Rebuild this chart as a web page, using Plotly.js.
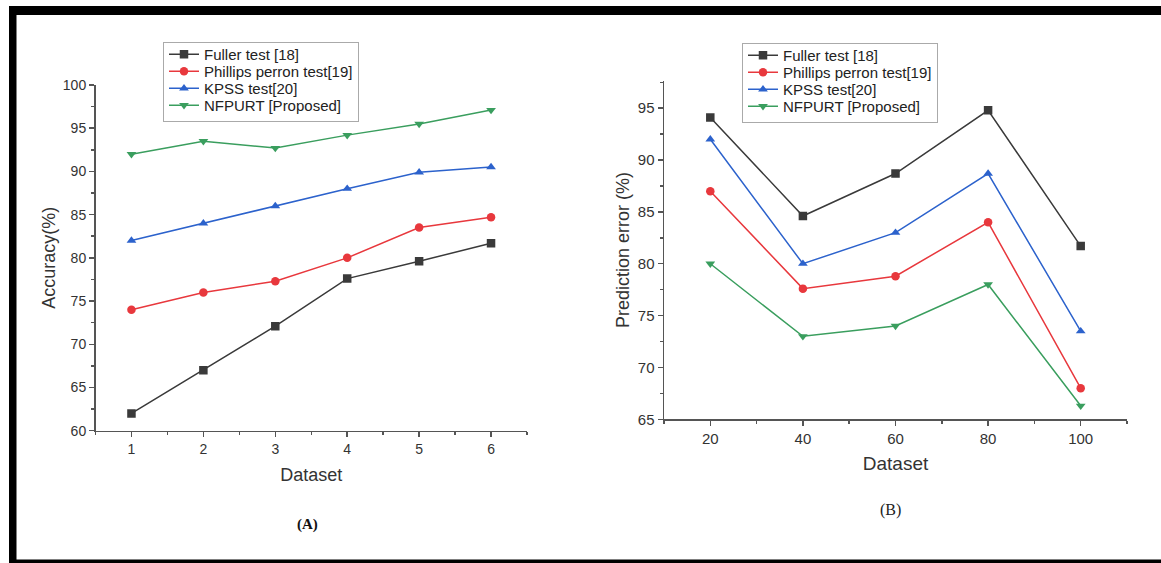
<!DOCTYPE html>
<html>
<head>
<meta charset="utf-8">
<script src="https://cdn.plot.ly/plotly-3.0.1.min.js"></script>
<style>html,body{margin:0;padding:0;background:#fff;}#chart{width:1161px;height:563px;}</style>
</head>
<body>
<div id="chart"></div>
<script>
// ---- data ----
const seriesNames = ["Fuller test [18]", "Phillips perron test[19]", "KPSS test[20]", "NFPURT [Proposed]"];
const datasetA = [1, 2, 3, 4, 5, 6];
const fullerA   = [62, 67, 72.1, 77.6, 79.6, 81.7];
const phillipsA = [74, 76, 77.3, 80, 83.5, 84.7];
const kpssA     = [82, 84, 86, 88, 89.9, 90.5];
const nfpurtA   = [92, 93.5, 92.7, 94.2, 95.5, 97.1];

const datasetB = [20, 40, 60, 80, 100];
const fullerB   = [94.1, 84.6, 88.7, 94.8, 81.7];
const phillipsB = [87, 77.6, 78.8, 84, 68];
const kpssB     = [92, 80, 83, 88.7, 73.5];
const nfpurtB   = [80, 73, 74, 78, 66.3];

const colors  = ["#3a3a3a", "#e8383d", "#2c62cc", "#3a9e5e"];
const symbols = ["square", "circle", "triangle-up", "triangle-down"];

const W = 1161, H = 563;
const px = v => v / W;
const py = v => 1 - v / H;

function mk(x, y, i, xa, ya, leg) {
  return {
    x: x, y: y, type: "scatter", mode: "lines+markers",
    name: seriesNames[i], xaxis: xa, yaxis: ya, legend: leg,
    line: {color: colors[i], width: 1.5},
    marker: {symbol: symbols[i], size: 8.5, color: colors[i]}
  };
}

const traces = [
  mk(datasetA, fullerA, 0, "x", "y", "legend"),
  mk(datasetA, phillipsA, 1, "x", "y", "legend"),
  mk(datasetA, kpssA, 2, "x", "y", "legend"),
  mk(datasetA, nfpurtA, 3, "x", "y", "legend"),
  mk(datasetB, fullerB, 0, "x2", "y2", "legend2"),
  mk(datasetB, phillipsB, 1, "x2", "y2", "legend2"),
  mk(datasetB, kpssB, 2, "x2", "y2", "legend2"),
  mk(datasetB, nfpurtB, 3, "x2", "y2", "legend2")
];

const axCommon = {
  showline: true, linecolor: "#555", linewidth: 1.5,
  ticks: "outside", ticklen: 5, tickwidth: 1.5, tickcolor: "#555",
  showgrid: false, zeroline: false, mirror: false,
  ticklabelstandoff: 0
};
const minorStyle = {ticks: "outside", ticklen: 3, tickcolor: "#555", tickwidth: 1.5};

const layout = {
  width: W, height: H,
  margin: {l: 0, r: 0, t: 0, b: 0},
  paper_bgcolor: "#fff", plot_bgcolor: "#fff",
  font: {family: "Liberation Sans, Arial, sans-serif", color: "#333"},
  showlegend: true,
  xaxis: Object.assign({}, axCommon, {
    domain: [px(95.5), px(527)], range: [0.5, 6.5], tick0: 1, dtick: 1,
    minor: Object.assign({dtick: 0.5, tick0: 0.5}, minorStyle),
    tickfont: {size: 14, color: "#333"},
    title: {text: "Dataset", font: {size: 18, color: "#333"}, standoff: 12},
    anchor: "y"
  }),
  yaxis: Object.assign({}, axCommon, {
    domain: [py(430.7), py(85)], range: [60, 100], tick0: 60, dtick: 5,
    minor: Object.assign({dtick: 2.5, tick0: 60}, minorStyle),
    tickfont: {size: 14, color: "#333"},
    title: {text: "Accuracy(%)", font: {size: 18, color: "#333"}, standoff: 2},
    anchor: "x"
  }),
  xaxis2: Object.assign({}, axCommon, {
    domain: [px(664), px(1127)], range: [10, 110], tick0: 20, dtick: 20,
    minor: Object.assign({dtick: 10, tick0: 10}, minorStyle),
    tickfont: {size: 15, color: "#333"},
    title: {text: "Dataset", font: {size: 19, color: "#333"}, standoff: 11},
    anchor: "y2"
  }),
  yaxis2: Object.assign({}, axCommon, {
    domain: [py(419.3), py(80.7)], range: [65, 97.65], tick0: 65, dtick: 5,
    minor: Object.assign({dtick: 2.5, tick0: 65}, minorStyle),
    tickfont: {size: 15, color: "#333"},
    title: {text: "Prediction error (%)", font: {size: 18, color: "#333"}, standoff: 3},
    anchor: "x2"
  }),
  legend: {
    x: px(163), y: py(42), xanchor: "left", yanchor: "top",
    bgcolor: "rgba(255,255,255,0)", bordercolor: "#aaa", borderwidth: 1,
    font: {size: 15, color: "#222"}, itemwidth: 30, tracegroupgap: 0
  },
  legend2: {
    x: px(742), y: py(43), xanchor: "left", yanchor: "top",
    bgcolor: "rgba(255,255,255,0)", bordercolor: "#aaa", borderwidth: 1,
    font: {size: 15, color: "#222"}, itemwidth: 30, tracegroupgap: 0
  },
  annotations: [
    {xref: "paper", yref: "paper", x: px(307), y: py(524), xanchor: "center", yanchor: "middle",
     text: "<b>(A)</b>", showarrow: false,
     font: {family: "Liberation Serif, Times New Roman, serif", size: 15, color: "#111"}},
    {xref: "paper", yref: "paper", x: px(890), y: py(510), xanchor: "center", yanchor: "middle",
     text: "(B)", showarrow: false,
     font: {family: "Liberation Serif, Times New Roman, serif", size: 16, color: "#222"}}
  ],
  shapes: [
    {type: "rect", xref: "paper", yref: "paper", x0: px(9), x1: 1, y0: py(15), y1: py(6), fillcolor: "#000", line: {width: 0}},
    {type: "rect", xref: "paper", yref: "paper", x0: px(9), x1: px(16.5), y0: 0, y1: py(6), fillcolor: "#000", line: {width: 0}},
    {type: "rect", xref: "paper", yref: "paper", x0: px(9), x1: 1, y0: 0, y1: py(559.5), fillcolor: "#000", line: {width: 0}}
  ]
};

// tighten legend row spacing to match the reference (rows ~17px apart)
function tightenLegends(gd) {
  const ROW = 17;
  gd.querySelectorAll("g.legend, g.legend2").forEach(function (leg) {
    const items = leg.querySelectorAll("g.traces");
    if (items.length < 2) return;
    const pos = Array.prototype.map.call(items, function (t) {
      const m = /translate\(\s*([-\d.e]+)[ ,]+([-\d.e]+)\s*\)/.exec(t.getAttribute("transform") || "");
      return m ? [parseFloat(m[1]), parseFloat(m[2])] : [0, 0];
    });
    const first = pos[0][1] - 5;
    const oldStep = pos[1][1] - pos[0][1];
    items.forEach(function (t, i) {
      t.setAttribute("transform", "translate(" + pos[i][0] + "," + (first + i * ROW) + ")");
    });
    const bg = leg.querySelector("rect.bg");
    if (bg) {
      const h = parseFloat(bg.getAttribute("height"));
      bg.setAttribute("height", h - (items.length - 1) * (oldStep - ROW) - 6);
    }
  });
}

Plotly.newPlot("chart", traces, layout, {staticPlot: true, displayModeBar: false}).then(tightenLegends);
</script>
</body>
</html>
